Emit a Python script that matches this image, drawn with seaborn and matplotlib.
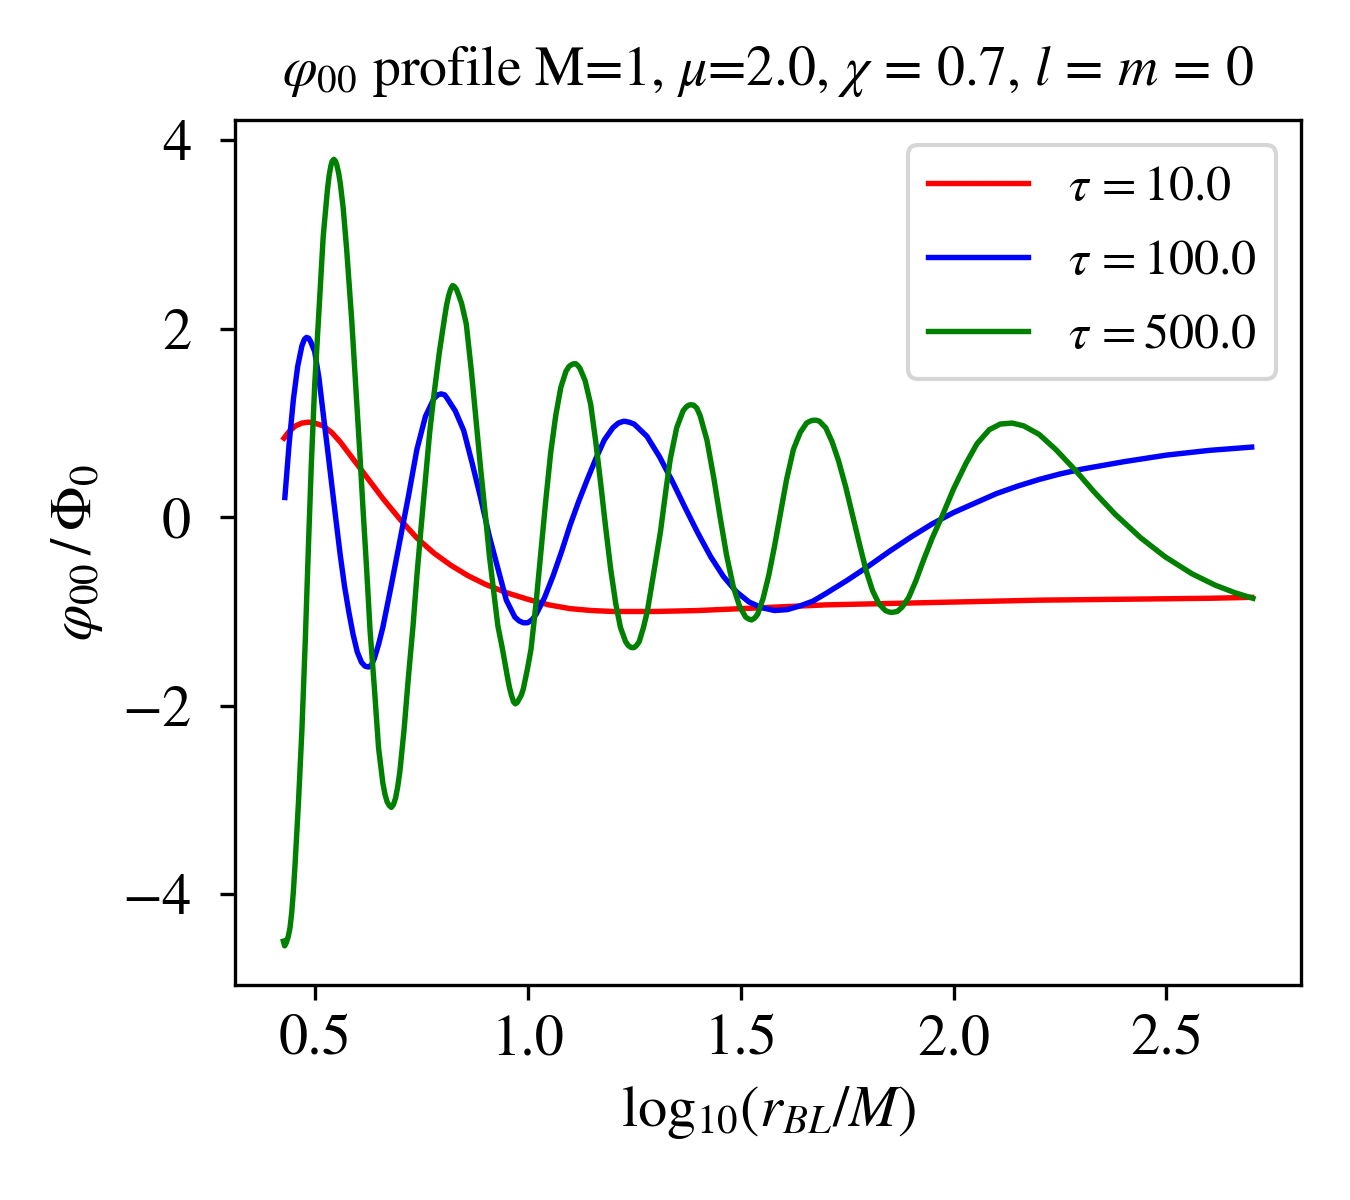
import matplotlib

matplotlib.use("Agg")
import matplotlib.pyplot as plt
import pandas as pd
import seaborn as sns

# values (log10(r_BL/M), phi_00/Phi_0)
TAUS = [10.0, 100.0, 500.0]
COLORS = ["red", "blue", "green"]

x_tau10 = [0.428, 0.44, 0.455, 0.47, 0.485, 0.50, 0.52, 0.54, 0.56, 0.58, 0.60,
           0.63, 0.66, 0.70, 0.74, 0.78, 0.82, 0.86, 0.90, 0.95, 1.00, 1.05,
           1.10, 1.15, 1.20, 1.30, 1.40, 1.50, 1.60, 1.70, 1.80, 1.90, 2.00,
           2.20, 2.40, 2.60, 2.70]
y_tau10 = [0.84, 0.91, 0.97, 1.00, 1.01, 1.00, 0.97, 0.90, 0.80, 0.68, 0.56,
           0.38, 0.20, -0.02, -0.22, -0.38, -0.51, -0.62, -0.71, -0.80, -0.87, -0.93,
           -0.97, -0.99, -1.00, -1.00, -0.99, -0.97, -0.95, -0.93, -0.92, -0.91, -0.90,
           -0.88, -0.87, -0.86, -0.85]

x_tau100 = [0.430, 0.44, 0.45, 0.46, 0.47, 0.476, 0.481, 0.486, 0.49, 0.50, 0.51,
            0.52, 0.53, 0.54, 0.55, 0.56, 0.57, 0.58, 0.59, 0.60, 0.61, 0.618,
            0.626, 0.633, 0.64, 0.65, 0.66, 0.68, 0.70, 0.72, 0.74, 0.76, 0.78,
            0.789, 0.797, 0.805, 0.81, 0.83, 0.85, 0.87, 0.89, 0.91, 0.93, 0.95,
            0.97, 0.98, 0.99, 1.00, 1.01, 1.02, 1.04, 1.06, 1.08, 1.10, 1.12,
            1.14, 1.16, 1.18, 1.20, 1.213, 1.226, 1.238, 1.25, 1.28, 1.31, 1.34,
            1.37, 1.40, 1.43, 1.46, 1.49, 1.52, 1.55, 1.58, 1.61, 1.64, 1.67,
            1.70, 1.75, 1.80, 1.85, 1.90, 1.95, 2.00, 2.05, 2.10, 2.15, 2.20,
            2.25, 2.30, 2.40, 2.50, 2.60, 2.70]
y_tau100 = [0.21, 0.78, 1.25, 1.60, 1.82, 1.89, 1.91, 1.90, 1.87, 1.76, 1.48,
            1.10, 0.73, 0.35, -0.03, -0.40, -0.73, -1.00, -1.24, -1.43, -1.54, -1.58,
            -1.59, -1.57, -1.50, -1.35, -1.17, -0.72, -0.25, 0.22, 0.72, 1.07, 1.26,
            1.30, 1.31, 1.30, 1.27, 1.13, 0.92, 0.57, 0.20, -0.20, -0.54, -0.88,
            -1.06, -1.10, -1.12, -1.12, -1.09, -1.03, -0.85, -0.62, -0.36, -0.08, 0.17,
            0.40, 0.62, 0.82, 0.95, 1.00, 1.02, 1.01, 0.99, 0.86, 0.64, 0.38,
            0.10, -0.17, -0.42, -0.63, -0.79, -0.90, -0.96, -0.99, -0.98, -0.94, -0.89,
            -0.81, -0.67, -0.52, -0.36, -0.21, -0.07, 0.05, 0.15, 0.25, 0.33, 0.40,
            0.46, 0.51, 0.59, 0.66, 0.71, 0.745]

x_tau500 = [0.4265, 0.4295, 0.433, 0.438, 0.442, 0.446, 0.450, 0.454, 0.462, 0.470,
            0.478, 0.485, 0.492, 0.500, 0.510, 0.520, 0.530, 0.534, 0.538, 0.541,
            0.545, 0.549, 0.552, 0.556, 0.560, 0.567, 0.575, 0.587, 0.597, 0.606,
            0.614, 0.622, 0.630, 0.640, 0.650, 0.660, 0.665, 0.670, 0.675, 0.680,
            0.685, 0.690, 0.695, 0.700, 0.710, 0.720, 0.731, 0.740, 0.750, 0.760,
            0.770, 0.780, 0.793, 0.805, 0.810, 0.815, 0.820, 0.824, 0.828, 0.833,
            0.838, 0.845, 0.856, 0.868, 0.879, 0.890, 0.902, 0.910, 0.918, 0.930,
            0.941, 0.952, 0.957, 0.962, 0.967, 0.971, 0.975, 0.980, 0.985, 0.990,
            1.000, 1.008, 1.020, 1.031, 1.042, 1.054, 1.066, 1.078, 1.090, 1.097,
            1.103, 1.108, 1.113, 1.118, 1.123, 1.135, 1.148, 1.160, 1.171, 1.183,
            1.195, 1.207, 1.218, 1.230, 1.236, 1.242, 1.247, 1.251, 1.256, 1.262,
            1.272, 1.281, 1.295, 1.312, 1.325, 1.335, 1.350, 1.365, 1.372, 1.378,
            1.384, 1.390, 1.397, 1.405, 1.421, 1.437, 1.452, 1.467, 1.483, 1.498,
            1.512, 1.519, 1.526, 1.533, 1.540, 1.553, 1.566, 1.580, 1.592, 1.608,
            1.624, 1.640, 1.655, 1.663, 1.670, 1.678, 1.685, 1.700, 1.715, 1.730,
            1.747, 1.764, 1.780, 1.795, 1.810, 1.825, 1.840, 1.848, 1.855, 1.862,
            1.868, 1.880, 1.895, 1.912, 1.930, 1.950, 1.974, 2.000, 2.029, 2.055,
            2.084, 2.110, 2.138, 2.165, 2.201, 2.240, 2.286, 2.330, 2.380, 2.440,
            2.497, 2.560, 2.614, 2.660, 2.703]
y_tau500 = [-4.50, -4.55, -4.52, -4.45, -4.36, -4.20, -3.97, -3.68, -3.02, -2.26,
            -1.30, -0.35, 0.55, 1.40, 2.20, 2.98, 3.48, 3.63, 3.73, 3.78,
            3.80, 3.78, 3.74, 3.66, 3.55, 3.28, 2.85, 2.09, 1.35, 0.68,
            0.05, -0.55, -1.20, -1.80, -2.45, -2.82, -2.94, -3.02, -3.06, -3.08,
            -3.05, -2.98, -2.86, -2.70, -2.25, -1.70, -1.15, -0.62, -0.10, 0.40,
            0.90, 1.30, 1.76, 2.12, 2.26, 2.36, 2.43, 2.46, 2.45, 2.42,
            2.36, 2.27, 2.05, 1.55, 1.03, 0.50, -0.03, -0.40, -0.70, -1.15,
            -1.40, -1.68, -1.80, -1.89, -1.96, -1.98, -1.97, -1.93, -1.89, -1.82,
            -1.60, -1.40, -0.90, -0.38, 0.15, 0.68, 1.08, 1.38, 1.55, 1.60,
            1.62, 1.63, 1.63, 1.61, 1.58, 1.45, 1.20, 0.80, 0.38, -0.10,
            -0.55, -0.92, -1.17, -1.32, -1.36, -1.38, -1.385, -1.38, -1.36, -1.32,
            -1.17, -1.00, -0.62, -0.15, 0.30, 0.62, 0.95, 1.13, 1.17, 1.19,
            1.195, 1.19, 1.16, 1.08, 0.82, 0.42, 0.00, -0.40, -0.74, -0.95,
            -1.06, -1.08, -1.09, -1.07, -1.03, -0.86, -0.62, -0.30, 0.00, 0.40,
            0.72, 0.90, 1.00, 1.02, 1.03, 1.03, 1.02, 0.95, 0.80, 0.60,
            0.32, 0.00, -0.30, -0.57, -0.78, -0.92, -0.99, -1.005, -1.01, -1.005,
            -1.00, -0.95, -0.85, -0.67, -0.45, -0.22, 0.02, 0.30, 0.57, 0.78,
            0.93, 0.99, 1.00, 0.97, 0.88, 0.72, 0.50, 0.27, 0.03, -0.22,
            -0.42, -0.60, -0.72, -0.80, -0.86]

SERIES = [(x_tau10, y_tau10), (x_tau100, y_tau100), (x_tau500, y_tau500)]

plt.rcParams["font.family"] = ["STIXGeneral", "DejaVu Serif"]
plt.rcParams["mathtext.fontset"] = "stix"
plt.rcParams["font.size"] = 14

fig, ax = plt.subplots(figsize=(4.5, 4.0), dpi=300)
fig.subplots_adjust(left=0.174, right=0.964, top=0.9, bottom=0.179)

for tau, color, (xs, ys) in zip(TAUS, COLORS, SERIES):
    df = pd.DataFrame({"x": xs, "y": ys})
    sns.lineplot(data=df, x="x", y="y", color=color, linewidth=1.3,
                 estimator=None, sort=False, label=r"$\tau\,=$" + str(tau), ax=ax)

ax.set_title(r"$\varphi_{00}$ profile M=1, $\mu$=2.0, $\chi\,=\,0.7$, $l\,=\,m\,=\,0$",
             fontsize=13.4, pad=8.5)
ax.set_xlabel(r"$\mathrm{log}_{10}(r_{BL}/M)$", fontsize=14)
ax.set_ylabel(r"$\varphi_{00}\,/\,\Phi_0$", fontsize=14)
ax.tick_params(labelsize=14)
ax.tick_params(axis="y", pad=7)
ax.legend(loc="upper right", fontsize=12, labelspacing=0.56)

fig.savefig("out.png", dpi=300)
